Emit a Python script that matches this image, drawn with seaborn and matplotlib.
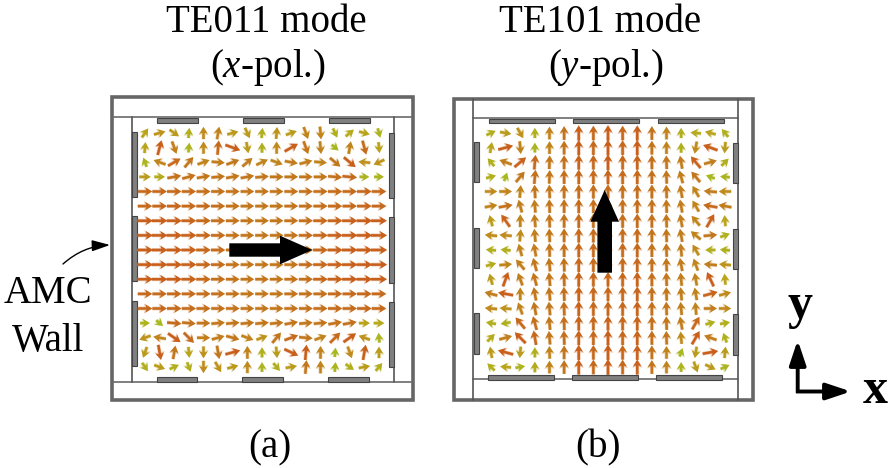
import numpy as np
import matplotlib
matplotlib.use("Agg")
import matplotlib.pyplot as plt
from matplotlib.patches import Rectangle, Polygon, FancyArrowPatch
from matplotlib.colors import LinearSegmentedColormap
import seaborn as sns

# ---------- field data: direction (deg, counter-clockwise from +x), strength 0-1 ----------
left_angles = [
 [55,15,-35,85,90,80,15,-65,85,85,20,-70,-85,-65,40,-15,-75],
 [85,75,-70,85,90,85,-20,-80,90,90,30,-70,-85,-40,80,-75,-85],
 [110,160,30,50,20,-5,20,40,25,-20,-10,15,-5,-40,-40,175,205],
 [0,0,10,15,10,5,10,10,5,0,0,0,0,-5,-5,0,0],
 [0,0,0,0,0,0,0,0,0,0,0,0,0,0,0,0,0],
 [0,0,0,0,0,0,0,0,0,0,0,0,0,0,0,0,0],
 [0,0,0,0,0,0,0,0,0,0,0,0,0,0,0,0,0],
 [0,0,0,0,0,0,0,0,0,0,0,0,0,0,0,0,0],
 [0,0,0,0,0,0,0,0,0,0,0,0,0,0,0,0,0],
 [0,0,0,0,0,0,0,0,0,0,0,0,0,0,0,0,0],
 [0,0,0,0,0,0,0,0,0,0,0,0,0,0,0,0,0],
 [0,0,0,0,0,0,0,0,0,0,0,0,0,0,0,0,0],
 [0,0,0,0,0,0,0,0,0,0,0,0,0,0,0,0,0],
 [0,-40,-5,-5,0,5,5,5,5,5,10,5,5,10,10,0,0],
 [200,170,-35,-45,0,15,-15,-20,20,50,20,-5,20,45,35,160,95],
 [250,-80,80,-85,-90,-80,15,90,90,-85,-25,85,90,85,-70,80,90],
 [-55,-20,25,-70,-90,-60,15,90,90,-50,10,85,90,85,-35,10,50],
]
left_strength = [
 [.30,.40,.35,.20,.45,.50,.35,.35,.20,.40,.35,.50,.50,.20,.25,.30,.15],
 [.30,.80,.55,.15,.45,.70,.85,.35,.20,.45,.80,.60,.50,.05,.50,.70,.30],
 [.15,.50,.70,.60,.50,.55,.60,.55,.50,.50,.55,.55,.50,.60,.80,.40,.40],
 [.35,.25,.65,.62,.60,.60,.60,.60,.60,.60,.60,.60,.60,.65,.72,.15,.15],
 [.72,.72,.70,.68,.66,.64,.62,.60,.60,.60,.62,.64,.66,.68,.70,.72,.72],
 [.70,.72,.72,.70,.68,.66,.62,.60,.60,.60,.62,.64,.66,.68,.70,.72,.72],
 [.85,.82,.78,.74,.70,.66,.62,.60,.60,.60,.62,.66,.70,.74,.78,.82,.85],
 [.85,.85,.82,.78,.72,.68,.62,.60,.60,.60,.62,.68,.72,.78,.82,.85,.88],
 [.88,.85,.82,.78,.72,.68,.62,.60,.60,.60,.62,.68,.72,.78,.82,.85,.90],
 [.88,.85,.82,.78,.72,.68,.62,.60,.60,.60,.62,.68,.72,.78,.82,.85,.90],
 [.85,.85,.80,.76,.70,.66,.62,.60,.60,.60,.62,.66,.72,.76,.80,.85,.88],
 [.70,.70,.70,.68,.66,.64,.62,.60,.60,.60,.62,.64,.66,.68,.70,.72,.72],
 [.72,.72,.70,.68,.66,.64,.62,.60,.60,.60,.62,.64,.66,.68,.70,.72,.72],
 [.15,.05,.70,.62,.60,.60,.60,.60,.60,.60,.60,.60,.60,.62,.65,.30,.25],
 [.40,.50,.80,.70,.55,.55,.60,.50,.40,.60,.70,.60,.50,.70,.80,.40,.15],
 [.35,.80,.60,.30,.40,.60,.80,.50,.20,.35,.80,.80,.50,.10,.45,.80,.35],
 [.20,.35,.20,.20,.45,.40,.35,.45,.15,.20,.35,.60,.50,.15,.20,.35,.20],
]
right_angles = [
 [25,-10,-60,90,90,90,90,90,90,90,90,90,90,90,175,165,130],
 [80,15,-85,90,90,90,90,90,90,90,90,90,90,90,260,160,265],
 [130,160,40,85,88,90,90,90,90,90,90,90,92,100,130,15,45],
 [15,70,50,85,88,90,90,90,90,90,90,90,92,105,130,160,175],
 [0,0,85,93,92,90,90,90,90,90,90,90,92,100,120,175,180],
 [10,10,105,95,92,90,90,90,90,90,90,90,92,100,120,170,170],
 [105,125,90,95,92,90,90,90,90,90,90,90,92,100,130,60,95],
 [175,175,85,95,92,90,90,90,90,90,90,90,92,100,140,5,20],
 [175,175,105,100,92,90,90,90,90,90,90,90,92,95,120,180,175],
 [15,5,130,105,95,92,90,90,90,90,90,90,92,100,110,175,175],
 [105,70,110,105,95,92,90,90,90,90,90,90,92,95,100,115,95],
 [165,170,90,100,95,92,90,90,90,90,90,90,92,95,100,15,15],
 [175,175,110,100,95,92,90,90,90,90,90,90,92,95,95,0,0],
 [170,190,130,105,95,92,90,90,90,90,90,90,92,100,60,15,10],
 [45,15,135,100,95,92,90,90,90,90,90,90,92,95,60,160,110],
 [100,165,265,90,92,90,90,90,90,90,90,90,90,70,260,10,85],
 [135,175,10,90,90,90,90,90,90,90,90,90,90,90,-70,-25,25],
]
right_strength = [
 [.20,.35,.40,.20,.50,.62,.80,.72,.85,.72,.80,.62,.50,.20,.25,.30,.20],
 [.30,.80,.50,.15,.50,.62,.80,.72,.85,.72,.80,.62,.50,.20,.45,.80,.35],
 [.20,.55,.78,.72,.60,.66,.75,.72,.85,.72,.75,.66,.60,.55,.78,.55,.20],
 [.20,.05,.60,.66,.60,.66,.72,.70,.75,.70,.72,.66,.60,.55,.60,.10,.15],
 [.45,.50,.50,.60,.60,.64,.68,.66,.68,.66,.68,.64,.60,.55,.50,.55,.45],
 [.50,.65,.55,.55,.60,.64,.68,.66,.66,.66,.68,.64,.60,.55,.50,.70,.55],
 [.35,.75,.50,.55,.60,.64,.68,.66,.66,.66,.68,.64,.60,.55,.50,.78,.30],
 [.45,.45,.45,.55,.60,.64,.70,.68,.66,.68,.70,.64,.60,.55,.50,.60,.20],
 [.20,.20,.50,.55,.60,.64,.72,.70,.70,.70,.72,.64,.60,.55,.45,.20,.20],
 [.25,.50,.55,.60,.60,.64,.72,.70,.70,.70,.72,.64,.60,.55,.50,.55,.40],
 [.35,.80,.55,.60,.60,.66,.75,.72,.72,.72,.75,.66,.60,.55,.50,.85,.30],
 [.55,.80,.50,.60,.60,.66,.75,.72,.72,.72,.75,.66,.60,.55,.50,.75,.45],
 [.45,.40,.50,.60,.60,.66,.75,.72,.72,.72,.75,.66,.60,.55,.50,.55,.45],
 [.20,.20,.72,.66,.60,.66,.75,.72,.75,.72,.75,.66,.60,.55,.70,.20,.20],
 [.25,.55,.80,.72,.60,.66,.75,.72,.80,.72,.75,.66,.60,.45,.80,.55,.20],
 [.35,.85,.35,.20,.50,.62,.78,.72,.85,.72,.78,.62,.50,.05,.35,.85,.35],
 [.20,.30,.15,.25,.50,.62,.78,.72,.85,.72,.78,.62,.50,.15,.35,.35,.15],
]
field_colors = ["#a8b820", "#b8a81c", "#c08a1c", "#c4741c", "#c8601c"]

# ---------- text ----------
titles = ["TE011 mode", "TE101 mode"]
subtitles = [r"($\mathit{x}$-pol.)", r"($\mathit{y}$-pol.)"]
captions = ["(a)", "(b)"]

sns.set_style("white")
plt.rcParams["font.family"] = ["Liberation Serif", "DejaVu Serif"]
plt.rcParams["mathtext.fontset"] = "custom"
plt.rcParams["mathtext.rm"] = "Liberation Serif"
plt.rcParams["mathtext.it"] = "Liberation Serif:italic"

cmap = LinearSegmentedColormap.from_list("field", sns.blend_palette(field_colors, 32))

fig = plt.figure(figsize=(8.9, 4.68), dpi=100)
ax = fig.add_axes([0, 0, 1, 1])
ax.set_xlim(0, 890)
ax.set_ylim(468, 0)
ax.axis("off")


def field(angles, strength, x0, x1, y0, y1):
    a = np.radians(np.array(angles, float))
    s = np.array(strength, float)
    xs = np.linspace(x0, x1, a.shape[1])
    ys = np.linspace(y0, y1, a.shape[0])
    X, Y = np.meshgrid(xs, ys)
    L = 8.5 + 8.5 * s
    U, V = L * np.cos(a), -L * np.sin(a)
    common = dict(angles="xy", scale_units="xy", scale=1, units="xy", pivot="mid")
    ax.quiver(X, Y, U, V, s, cmap=cmap, clim=(0.1, 0.8), alpha=0.35, width=3.8,
              headwidth=2.7, headlength=2.2, headaxislength=2.0, zorder=2, **common)
    ax.quiver(X, Y, U, V, s, cmap=cmap, clim=(0.1, 0.8), width=2.5,
              headwidth=3.4, headlength=2.8, headaxislength=2.4, zorder=3, **common)


def cavity(outer, inner, bars, full_horizontal):
    x0, y0, x1, y1 = outer
    ax.add_patch(Rectangle((x0, y0), x1 - x0, y1 - y0, fill=False, ec="#666666", lw=2.6, zorder=1))
    ix0, iy0, ix1, iy1 = inner
    hx = (x0, x1) if full_horizontal else (ix0, ix1)
    vy = (iy0, iy1) if full_horizontal else (y0, y1)
    ax.plot(hx, [iy0, iy0], color="#6a6a6a", lw=1.2, zorder=1)
    ax.plot(hx, [iy1, iy1], color="#6a6a6a", lw=1.2, zorder=1)
    ax.plot([ix0, ix0], vy, color="#555555", lw=1.2, zorder=1)
    ax.plot([ix1, ix1], vy, color="#555555", lw=1.2, zorder=1)
    for bx0, by0, bx1, by1 in bars:
        ax.add_patch(Rectangle((bx0, by0), bx1 - bx0, by1 - by0, fc="#808080", ec="#444444", lw=0.8, zorder=1))


cavity((112, 97, 413, 400), (132, 117, 394, 382), [
    (157.3, 118, 198.3, 123.3), (243.3, 118, 284, 123.3), (329.3, 118, 370.3, 123.3),
    (156.7, 377.3, 197.3, 382.3), (241.7, 377.3, 282.7, 382.3), (328.3, 377.3, 369, 382.3),
    (132.3, 131.7, 136.7, 197.3), (132.3, 216, 136.7, 281.3), (132.3, 300.7, 136.7, 365.7),
    (388.7, 132.7, 393.7, 198.3), (388.7, 217.3, 393.7, 282.7), (388.7, 302, 393.7, 366.7)], True)
cavity((454, 99, 753, 400), (473.3, 118.3, 738.3, 379.3), [
    (489, 118.7, 555, 123.3), (573, 118.7, 639, 123.3), (657.7, 118.7, 723.7, 123.3),
    (487.7, 375.3, 554, 380), (571.7, 375.3, 638.3, 380), (656.3, 375.3, 722.3, 380),
    (474, 141.7, 479, 182.3), (474, 227.7, 479, 268.3), (474, 313.3, 479, 354),
    (733.3, 142.7, 738.3, 183.3), (733.3, 228.7, 738.3, 269.3), (733.3, 314.3, 738.3, 355)], False)

field(left_angles, left_strength, 145, 379, 133, 367)
field(right_angles, right_strength, 491, 725, 133, 367)

# big polarisation arrows
ax.add_patch(Polygon([(229.3, 243.3), (280, 243.3), (280, 235.7), (312.3, 250), (280, 264.3),
                      (280, 256.7), (229.3, 256.7)], fc="black", ec="none", zorder=5))
ax.add_patch(Polygon([(597.4, 272.7), (597.4, 221.7), (590.4, 221.7), (604.7, 190), (619, 221.7),
                      (612, 221.7), (612, 272.7)], fc="black", ec="none", zorder=5))

# text
FS = 28
for cx, t in zip([266, 600], titles):
    ax.text(cx, 32, t, ha="center", va="baseline", fontsize=FS, color="black")
for cx, t in zip([268, 606], subtitles):
    ax.text(cx, 77, t, ha="center", va="baseline", fontsize=FS, color="black")
for cx, t in zip([270, 598], captions):
    ax.text(cx, 457, t, ha="center", va="baseline", fontsize=FS, color="black")
ax.text(48, 303, "AMC", ha="center", va="baseline", fontsize=FS, color="black")
ax.text(48, 351, "Wall", ha="center", va="baseline", fontsize=FS, color="black")

# AMC pointer
ax.add_patch(FancyArrowPatch((63, 264), (110, 245), connectionstyle="arc3,rad=-0.18",
                             arrowstyle="-|>,head_length=11,head_width=3.4", mutation_scale=1,
                             lw=1.0, color="black", shrinkA=0, shrinkB=0, zorder=4))

# axis key
key_head = "-|>,head_length=15,head_width=5"
ax.add_patch(FancyArrowPatch((797.7, 393), (797.7, 340), arrowstyle=key_head, mutation_scale=1, lw=2.8,
                             color="black", shrinkA=0, shrinkB=0, capstyle="butt", zorder=4))
ax.add_patch(FancyArrowPatch((796, 391.5), (851, 391.5), arrowstyle=key_head, mutation_scale=1, lw=2.8,
                             color="black", shrinkA=0, shrinkB=0, capstyle="butt", zorder=4))
ax.text(800, 318, "y", ha="center", va="baseline", fontsize=36, fontweight="bold", color="black")
ax.text(875.5, 403, "x", ha="center", va="baseline", fontsize=36, fontweight="bold", color="black")

fig.savefig("out.png", dpi=100)
